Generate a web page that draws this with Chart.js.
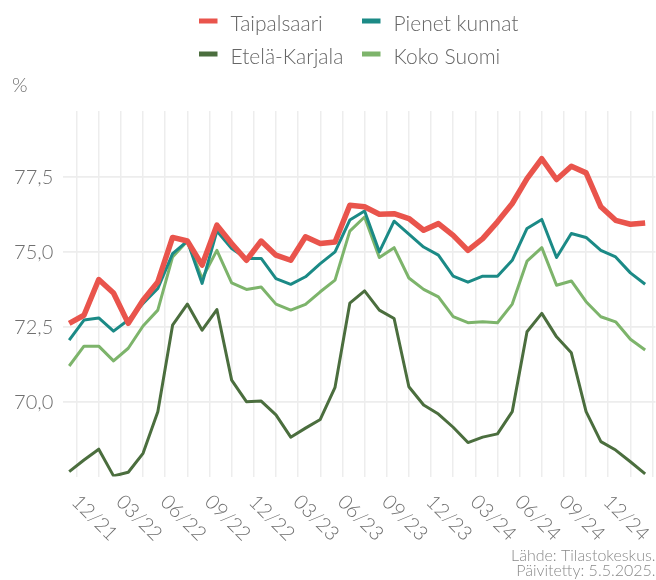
<!DOCTYPE html>
<html>
<head>
<meta charset="utf-8">
<script src="https://cdn.jsdelivr.net/npm/chart.js@4.4.1/dist/chart.umd.min.js"></script>
<style>
	body { margin: 0; background: #fff; }
	#chart { display: block; }
</style>
</head>
<body>
<canvas id="chart" width="656" height="580"></canvas>
<script>
// months 11/21 .. 02/25, one value per month
const months = ['11/21','12/21','01/22','02/22','03/22','04/22','05/22','06/22','07/22','08/22','09/22','10/22',
	'11/22','12/22','01/23','02/23','03/23','04/23','05/23','06/23','07/23','08/23','09/23','10/23',
	'11/23','12/23','01/24','02/24','03/24','04/24','05/24','06/24','07/24','08/24','09/24','10/24',
	'11/24','12/24','01/25','02/25'];

const taipalsaari = [72.63, 72.90, 74.09, 73.64, 72.63, 73.40, 74.01, 75.49, 75.37, 74.57, 75.90, 75.29,
	74.73, 75.37, 74.90, 74.73, 75.51, 75.29, 75.34, 76.56, 76.51, 76.26, 76.28, 76.12,
	75.73, 75.95, 75.56, 75.06, 75.45, 76.01, 76.62, 77.45, 78.11, 77.42, 77.86, 77.64,
	76.51, 76.06, 75.93, 75.97];
const pienetKunnat = [72.07, 72.74, 72.81, 72.37, 72.74, 73.29, 73.79, 74.95, 75.37, 73.96, 75.70, 75.12,
	74.79, 74.79, 74.12, 73.93, 74.18, 74.62, 75.01, 76.07, 76.37, 75.01, 76.03, 75.60,
	75.17, 74.90, 74.20, 74.00, 74.20, 74.20, 74.73, 75.79, 76.09, 74.82, 75.62, 75.49,
	75.06, 74.84, 74.31, 73.93];
const etelaKarjala = [67.69, 68.08, 68.44, 67.55, 67.67, 68.30, 69.69, 72.57, 73.27, 72.40, 73.09, 70.74,
	70.02, 70.04, 69.58, 68.84, 69.14, 69.43, 70.50, 73.30, 73.71, 73.07, 72.79, 70.52,
	69.91, 69.61, 69.17, 68.66, 68.84, 68.95, 69.69, 72.35, 72.96, 72.18, 71.65, 69.69,
	68.69, 68.41, 68.02, 67.62];
const kokoSuomi = [71.21, 71.87, 71.87, 71.38, 71.80, 72.54, 73.07, 74.84, 75.37, 74.12, 75.06, 73.98,
	73.76, 73.84, 73.27, 73.07, 73.26, 73.68, 74.07, 75.70, 76.17, 74.82, 75.15, 74.14,
	73.76, 73.51, 72.85, 72.65, 72.68, 72.65, 73.27, 74.70, 75.15, 73.90, 74.04, 73.35,
	72.85, 72.68, 72.10, 71.74];

const seriesNames = ['Taipalsaari', 'Pienet kunnat', 'Etelä-Karjala', 'Koko Suomi'];
const seriesColors = ['#e9544c', '#1b8a86', '#4b6e3e', '#7db46b'];

// x tick labels every third month, starting at 12/21
const tickLabels = ['12/21','03/22','06/22','09/22','12/22','03/23','06/23','09/23','12/23','03/24','06/24','09/24','12/24'];
const yTicks = [70, 72.5, 75, 77.5];

const textGray = '#707070';
const font = 'Lato, "Open Sans", sans-serif';

// x value: months since 1.11.2021, points sit mid-month
const toPoints = arr => arr.map((v, i) => ({x: i + 0.5, y: v}));

const extras = {
	id: 'extras',
	afterDraw: chart => {
		const ctx = chart.ctx;
		const xs = chart.scales.x;
		ctx.save();
		// rotated month labels
		ctx.fillStyle = textGray;
		ctx.font = `300 20px ${font}`;
		ctx.textAlign = 'left';
		ctx.textBaseline = 'alphabetic';
		tickLabels.forEach((lab, i) => {
			const px = xs.getPixelForValue(1 + 3 * i);
			ctx.save();
			ctx.translate(px - 6, 503);
			ctx.rotate(Math.PI / 4);
			ctx.fillText(lab, 0, 0);
			ctx.restore();
		});
		// axis unit
		ctx.fillText('%', 12, 92);
		// legend, two rows
		const cols = [199, 362];
		const rows = [21, 54];
		ctx.font = `300 21px ${font}`;
		seriesNames.forEach((name, i) => {
			const cx = cols[i % 2];
			const cy = rows[Math.floor(i / 2)];
			ctx.fillStyle = seriesColors[i];
			ctx.fillRect(cx, cy - 2.5, 18.5, 5);
			ctx.fillStyle = '#666';
			ctx.fillText(name, cx + 31.5, cy + 9.5);
		});
		// source
		ctx.fillStyle = '#8a8a8a';
		ctx.font = `300 16px ${font}`;
		ctx.textAlign = 'right';
		ctx.fillText('Lähde: Tilastokeskus.', 655.5, 560.5);
		ctx.fillText('Päivitetty: 5.5.2025.', 655.5, 575.5);
		ctx.restore();
	}
};

const data = {
	datasets: [taipalsaari, pienetKunnat, kokoSuomi, etelaKarjala].map((arr, i) => {
		const idx = [0, 1, 3, 2][i];
		return {
			label: seriesNames[idx],
			data: toPoints(arr),
			borderColor: seriesColors[idx],
			backgroundColor: seriesColors[idx],
			borderWidth: idx === 0 ? 5.5 : 3,
			borderJoinStyle: 'round',
			pointRadius: 0,
			tension: 0
		};
	})
};

const config = {
	type: 'line',
	data,
	options: {
		responsive: false,
		animation: false,
		layout: {
			padding: {top: 111, right: 0.5, left: 0, bottom: 0}
		},
		plugins: {
			legend: {display: false},
			tooltip: {enabled: false}
		},
		scales: {
			x: {
				type: 'linear',
				min: 0.1,
				max: 40.2,
				afterBuildTicks: scale => {
					const t = [];
					for (let v = 1; v <= 40; v += 1.5) t.push({value: v});
					scale.ticks = t;
				},
				afterFit: scale => { scale.height = 103.5; },
				ticks: {display: false},
				grid: {color: '#ededed', lineWidth: 1.5, drawTicks: false},
				border: {display: false}
			},
			y: {
				min: 67.53,
				max: 79.7,
				afterBuildTicks: scale => {
					scale.ticks = yTicks.map(v => ({value: v}));
				},
				afterFit: scale => { scale.width = 63.3; },
				ticks: {
					color: textGray,
					padding: 10,
					font: {family: font, size: 20, weight: 300},
					callback: v => v.toFixed(1).replace('.', ',')
				},
				grid: {color: '#ededed', lineWidth: 1.8, drawTicks: false},
				border: {display: false}
			}
		}
	},
	plugins: [extras]
};

new Chart(document.getElementById('chart'), config);
</script>
</body>
</html>
